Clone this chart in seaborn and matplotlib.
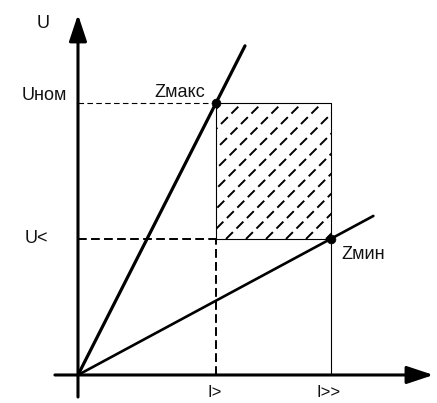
import numpy as np
import pandas as pd
import matplotlib.pyplot as plt
from matplotlib.patches import Rectangle
import seaborn as sns

# working area limits (relative units)
I_levels = [1.0, 1.83]          # I>, I>>
U_levels = [1.0, 2.0]           # U<, Uном
I_labels = ['I>', 'I>>']
U_labels = ['U<', 'Uном']
Z_labels = ['Zмакс', 'Zмин']
line_end_x = [1.21, 2.14]       # how far the Z lines are drawn

sns.set_theme(style='white')
plt.rcParams['font.family'] = ['Liberation Sans', 'DejaVu Sans']

fig = plt.figure(figsize=(4.37, 4.03), dpi=100)
ax = fig.add_axes([0, 0, 1, 1])
xlim = (-0.565, 2.601)
ylim = (-0.206, 2.757)
ax.set_xlim(xlim)
ax.set_ylim(ylim)
ax.axis('off')

I_gt, I_gtgt = I_levels
U_lt, U_nom = U_levels

# axes with arrows
arrow = dict(arrowstyle='-|>,head_length=1.35,head_width=0.45', lw=2.2,
             color='black', shrinkA=0, shrinkB=0, mutation_scale=12)
ax.annotate('', xy=(2.575, 0), xytext=(-0.167, 0), arrowprops=arrow)
ax.annotate('', xy=(0, 2.65), xytext=(0, -0.162), arrowprops=arrow)

# Z lines from origin through the corner points
z_pts = [(I_gt, U_nom), (I_gtgt, U_lt)]
widths = [2.3, 1.9]
for (xp, yp), xe, w in zip(z_pts, line_end_x, widths):
    df = pd.DataFrame({'I': [0, xe], 'U': [0, xe * yp / xp]})
    sns.lineplot(data=df, x='I', y='U', color='black', lw=w, ax=ax)
pts = pd.DataFrame({'I': [p[0] for p in z_pts], 'U': [p[1] for p in z_pts]})
sns.scatterplot(data=pts, x='I', y='U', color='black', s=40, edgecolor='black',
                zorder=5, ax=ax)

# dashed guides
ax.plot([0, I_gt], [U_nom, U_nom], color='black', lw=0.8, ls=(0, (5, 3)))
ax.plot([0, I_gt], [U_lt, U_lt], color='black', lw=1.4, ls=(0, (4.5, 2.2)))
ax.plot([I_gt, I_gt], [0, U_lt], color='black', lw=1.4, ls=(0, (4.5, 2.2)))

# rectangle edges
ax.plot([I_gt, I_gtgt], [U_nom, U_nom], color='black', lw=0.8)
ax.plot([I_gt, I_gtgt], [U_lt, U_lt], color='black', lw=0.8)
ax.plot([I_gt, I_gt], [U_lt, U_nom], color='black', lw=0.8)
ax.plot([I_gtgt, I_gtgt], [0, U_nom], color='black', lw=0.8)

# dashed hatching at 45 degrees on screen
sx = 437 / (xlim[1] - xlim[0])
sy = 403 / (ylim[1] - ylim[0])
clip = Rectangle((I_gt, U_lt), I_gtgt - I_gt, U_nom - U_lt, transform=ax.transData,
                 fill=False, lw=0)
ax.add_patch(clip)
run = (U_nom - U_lt) * sy / sx
step = 20 / sx
x0 = I_gt + 6 / sx - run
while x0 < I_gtgt:
    if x0 + run > I_gt:
        ln, = ax.plot([x0, x0 + run], [U_lt, U_nom], color='black', lw=1.4,
                      ls=(0, (5, 2.6)))
        ln.set_clip_path(clip)
    x0 += step

# labels
fs = 13
tc = '#111111'
ax.text(-0.3, 2.55, 'U', fontsize=fs, color=tc, va='baseline')
ax.text(-0.41, U_nom + 0.02, U_labels[1], fontsize=fs, color=tc, va='baseline')
ax.text(-0.39, U_lt - 0.03, U_labels[0], fontsize=fs, color=tc, va='baseline')
ax.text(0.55, 2.044, Z_labels[0], fontsize=fs, color=tc, va='baseline')
ax.text(1.91, 0.85, Z_labels[1], fontsize=fs, color=tc, va='baseline')
ax.text(I_gt - 0.06, -0.165, I_labels[0], fontsize=12, color=tc, va='baseline')
ax.text(I_gtgt - 0.1, -0.165, I_labels[1], fontsize=12, color=tc, va='baseline')

fig.savefig('out.png', dpi=100)
